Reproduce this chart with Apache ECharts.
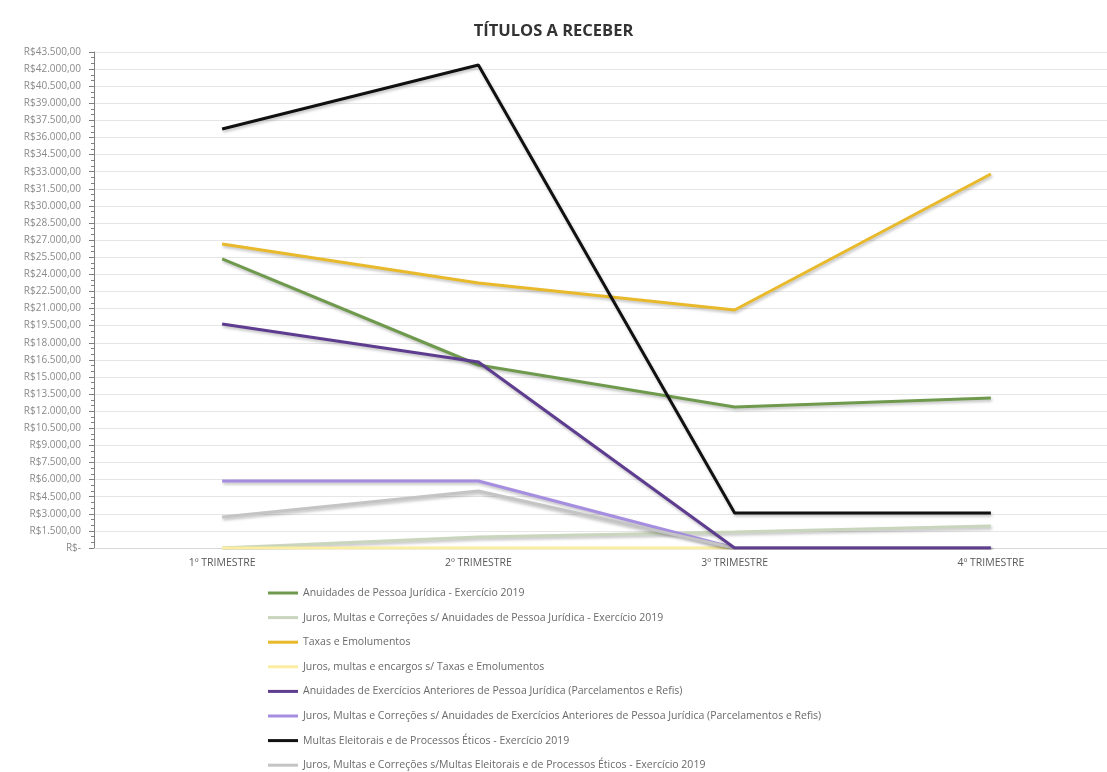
<!DOCTYPE html>
<html><head><meta charset="utf-8">
<script src="https://cdn.jsdelivr.net/npm/echarts@6/dist/echarts.min.js"></script>
<style>html,body{margin:0;padding:0;background:#fff}#c{width:1107px;height:772px}</style>
</head><body><div id="c"></div>
<script>
const categories = ['1º TRIMESTRE','2º TRIMESTRE','3º TRIMESTRE','4º TRIMESTRE'];
const seriesNames = [
 'Anuidades de Pessoa Jurídica - Exercício 2019',
 'Juros, Multas e Correções s/ Anuidades de Pessoa Jurídica - Exercício 2019',
 'Taxas e Emolumentos',
 'Juros, multas e encargos s/ Taxas e Emolumentos',
 'Anuidades de Exercícios Anteriores de Pessoa Jurídica (Parcelamentos e Refis)',
 'Juros, Multas e Correções s/ Anuidades de Exercícios Anteriores de Pessoa Jurídica (Parcelamentos e Refis)',
 'Multas Eleitorais e de Processos Éticos - Exercício 2019',
 'Juros, Multas e Correções s/Multas Eleitorais e de Processos Éticos - Exercício 2019'
];
const anuidadesPJ = [25350, 16050, 12370, 13150];
const jurosAnuidadesPJ = [0, 960, 1400, 1930];
const taxas = [26660, 23240, 20870, 32800];
const jurosTaxas = [0, 0, 0, 0];
const anuidadesAnteriores = [19640, 16310, 0, 0];
const jurosAnteriores = [5880, 5880, 0, 0];
const multasEleitorais = [36750, 42360, 3070, 3070];
const jurosMultas = [2720, 5000, 0, 0];
const colors = ['#6f9a4e','#c9d5bd','#e8b92a','#fbeea0','#5e3c8f','#a58de0','#111111','#c4c4c4'];
const dataList = [anuidadesPJ, jurosAnuidadesPJ, taxas, jurosTaxas, anuidadesAnteriores, jurosAnteriores, multasEleitorais, jurosMultas];

function fmt(v){
  if (v === 0) return 'R$-';
  const s = Math.round(v).toString().replace(/\B(?=(\d{3})+(?!\d))/g,'.');
  return 'R$' + s + ',00';
}
const chart = echarts.init(document.getElementById('c'));
chart.setOption({
  animation:false,
  title:{text:'TÍTULOS A RECEBER', left:'center', top:18, textStyle:{fontFamily:'Open Sans', fontWeight:'bold', fontSize:16.5, color:'#333'}},
  grid:{left:94, right:-12, top:52, bottom:224, outerBoundsMode:'none', containLabel:false},
  xAxis:{type:'category', data:categories, boundaryGap:true,
    axisLine:{lineStyle:{color:'#d9d9d9'}}, axisTick:{show:false},
    axisLabel:{fontFamily:'Open Sans', fontSize:10.5, color:'#595959', margin:10}},
  yAxis:{type:'value', min:0, max:43500, interval:1500,
    axisLine:{show:true, lineStyle:{color:'#808080'}},
    axisTick:{show:true, length:5, lineStyle:{color:'#808080'}},
    minorTick:{show:true, splitNumber:3, length:3, lineStyle:{color:'#808080'}},
    splitLine:{lineStyle:{color:'#e6e6e6'}},
    axisLabel:{fontFamily:'Open Sans', fontSize:10, color:'#8a8a8a', formatter:fmt, margin:13}},
  legend:{orient:'vertical', left:268, top:587, height:190, padding:0, itemGap:12.6, itemWidth:30, itemHeight:3, icon:'rect',
    textStyle:{fontFamily:'Open Sans', fontSize:10.5, color:'#6a6a6a', lineHeight:12}, data:seriesNames},
  series: seriesNames.map((n,i)=>({
    name:n, type:'line', data:dataList[i], symbol:'none', color:colors[i],
    lineStyle:{width:3, color:colors[i], shadowColor:'rgba(0,0,0,0.25)', shadowBlur:3, shadowOffsetX:1, shadowOffsetY:2},
    z: 10 - (i%2)
  }))
});
</script></body></html>
